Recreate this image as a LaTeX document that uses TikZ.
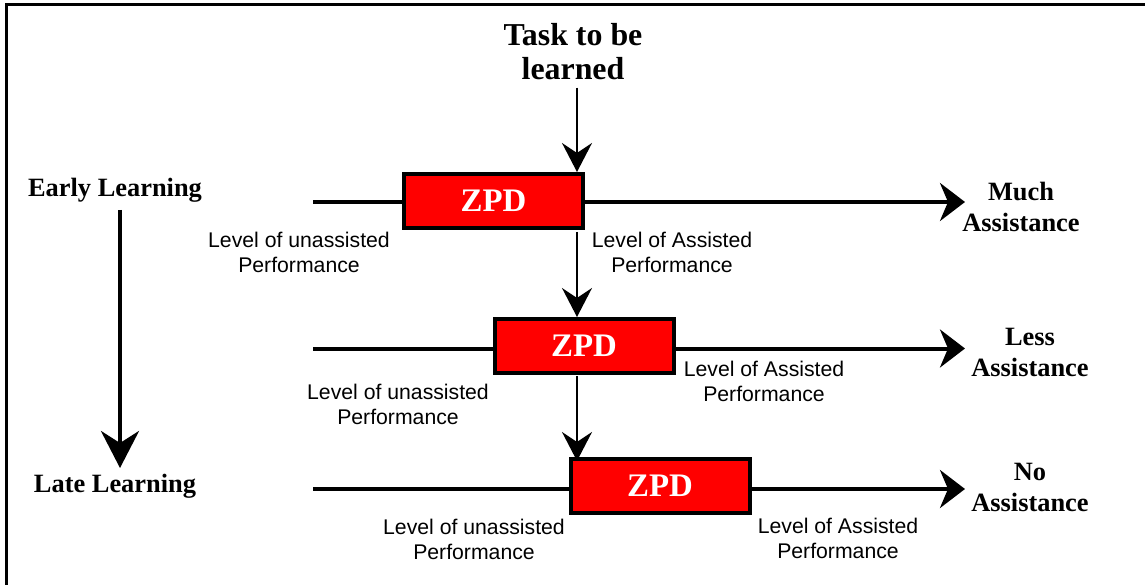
\documentclass[tikz,border=0pt]{standalone}
\usepackage{fontspec}
\setmainfont{Liberation Serif}
\newfontfamily\labelfont{Liberation Sans}
\usetikzlibrary{arrows.meta}

\definecolor{zpdred}{RGB}{255,0,0}

\tikzset{
  zpdbox/.style={draw=black, line width=4bp, fill=zpdred, text=white,
    minimum width=179bp, minimum height=54bp, inner sep=0pt,
    font=\fontsize{33}{35}\selectfont\bfseries},
  perflabel/.style={align=center, inner sep=0pt,
    font=\labelfont\fontsize{21.3}{25}\selectfont},
  headlabel/.style={align=center, inner sep=0pt,
    font=\fontsize{26.5}{31}\selectfont\bfseries},
  axisline/.style={line width=4bp},
  axisarrow/.style={line width=4bp, -{Stealth[length=25bp, width=38bp, inset=8bp]}},
  steparrow/.style={line width=2bp, -{Stealth[length=29bp, width=30bp, inset=10bp]}},
  timearrow/.style={line width=4bp, -{Stealth[length=37bp, width=38bp, inset=12bp]}},
}

\begin{document}
\begin{tikzpicture}[x=1bp, y=-1bp]
\useasboundingbox (0,0) rectangle (1145,585);

% outer frame (only its top and left sides fall inside the page)
\draw[line width=3bp] (6,600) -- (6,5) -- (1160,5);

% title (base anchor sits on the last line)
\node[headlabel, font=\fontsize{32}{35}\selectfont\bfseries, anchor=base]
  (task) at (573,80) {Task to be\\learned};

% time axis
\node[headlabel, anchor=base] (early) at (115,197) {Early Learning};
\node[headlabel, anchor=base] (late) at (115,492) {Late Learning};
\coordinate (tstart) at (120,210);
\coordinate (tend) at (120,468);
\draw[timearrow] (tstart) -- (tend);

% ZPD boxes
\node[zpdbox] (z1) at (493.5,201) {ZPD};
\node[zpdbox] (z2) at (584,346) {ZPD};
\node[zpdbox] (z3) at (660,486) {ZPD};

% horizontal performance lines
\coordinate (s1) at (313,202);
\coordinate (e1) at (965,202);
\coordinate (s2) at (313,348.5);
\coordinate (e2) at (965,348.5);
\coordinate (s3) at (313,489);
\coordinate (e3) at (965,489);
\draw[axisline] (s1) -- (z1.west |- s1);
\draw[axisarrow] (z1.east |- s1) -- (e1);
\draw[axisline] (s2) -- (z2.west |- s2);
\draw[axisarrow] (z2.east |- s2) -- (e2);
\draw[axisline] (s3) -- (z3.west |- s3);
\draw[axisarrow] (z3.east |- s3) -- (e3);

% assistance levels
\node[headlabel, anchor=base] (much) at (1021,231.7) {Much\\Assistance};
\node[headlabel, anchor=base] (less) at (1030,376.7) {Less\\Assistance};
\node[headlabel, anchor=base] (none) at (1030,511.7) {No\\Assistance};

% vertical step arrows
\coordinate (col) at (577,0);
\draw[steparrow] (task.south -| col) ++(0,7) -- (z1.north -| col);
\draw[steparrow] (z1.south -| col) ++(0,2) -- (z2.north -| col);
\draw[steparrow] (z2.south -| col) ++(0,1) -- ([yshift=-4bp]z3.north -| col);

% performance levels
\node[perflabel] (u1) at (299,252) {Level of unassisted\\Performance};
\node[perflabel] (a1) at (672,252) {Level of Assisted\\Performance};
\node[perflabel] (u2) at (398,404) {Level of unassisted\\Performance};
\node[perflabel] (a2) at (764,381) {Level of Assisted\\Performance};
\node[perflabel] (u3) at (474,539) {Level of unassisted\\Performance};
\node[perflabel] (a3) at (838,538) {Level of Assisted\\Performance};
\end{tikzpicture}
\end{document}
